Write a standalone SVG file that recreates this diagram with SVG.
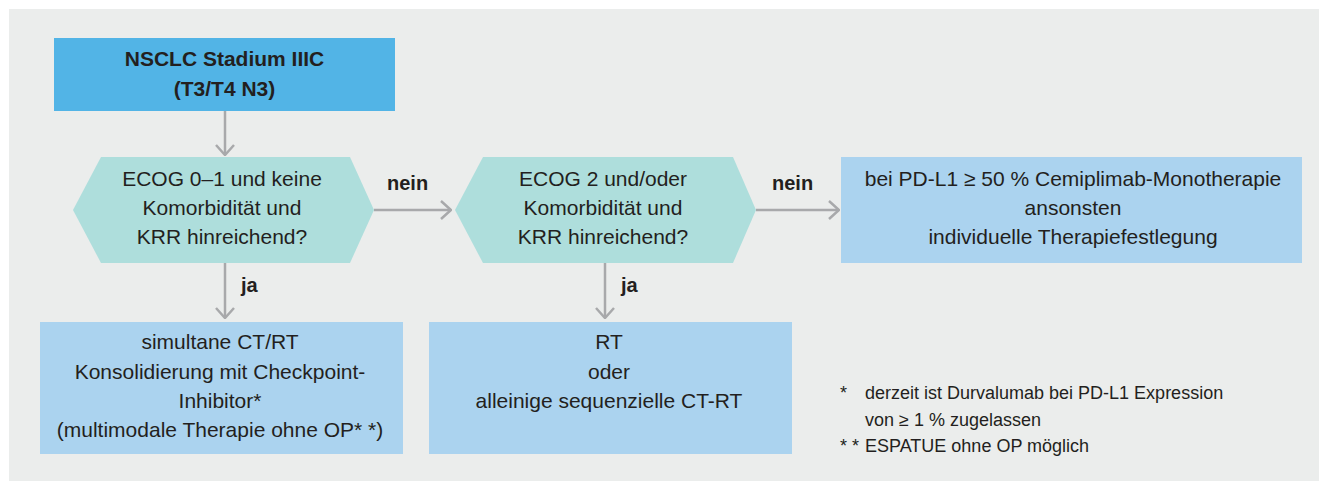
<svg xmlns="http://www.w3.org/2000/svg" width="1319" height="481" viewBox="0 0 1319 481">
  <defs>
    <style>
      .t { font-family: "Liberation Sans", Arial, sans-serif; font-size: 21px; fill: #231F20; text-anchor: middle; }
      .b { font-weight: bold; }
      .lbl { font-family: "Liberation Sans", Arial, sans-serif; font-size: 20px; font-weight: bold; fill: #231F20; }
      .fn { font-family: "Liberation Sans", Arial, sans-serif; font-size: 18px; fill: #231F20; }
      .start { fill: #52B4E6; }
      .dec { fill: #AEDEDC; }
      .res { fill: #ABD3EF; }
      .conn { stroke: #A8A9AB; stroke-width: 2.5; fill: none; marker-end: url(#arr); }
    </style>
    <marker id="arr" viewBox="0 0 12 20" refX="11" refY="10" markerWidth="12" markerHeight="20" markerUnits="userSpaceOnUse" orient="auto">
      <path d="M1,1 L11,10 L1,19" fill="none" stroke="#A8A9AB" stroke-width="2.5"/>
    </marker>
  </defs>

  <rect x="9" y="9" width="1310" height="472" fill="#EBEDEC"/>

  <g id="connectors">
    <line class="conn" x1="225" y1="111" x2="225" y2="155"/>
    <line class="conn" x1="374" y1="210" x2="451" y2="210"/>
    <line class="conn" x1="756" y1="210" x2="839" y2="210"/>
    <line class="conn" x1="225" y1="263" x2="225" y2="318"/>
    <line class="conn" x1="605" y1="263" x2="605" y2="318"/>
    <text class="lbl" x="387" y="190">nein</text>
    <text class="lbl" x="772" y="190">nein</text>
    <text class="lbl" x="241" y="292">ja</text>
    <text class="lbl" x="621" y="292">ja</text>
  </g>

  <g id="start">
    <rect class="start" x="54" y="38" width="341" height="73"/>
    <text class="t b" font-size="20" x="224.5" y="66">NSCLC Stadium IIIC</text>
    <text class="t b" font-size="20" x="224.5" y="96">(T3/T4 N3)</text>
  </g>

  <g id="decision1">
    <polygon class="dec" points="73,210 101,157 350,157 374,210 350,263 101,263"/>
    <text class="t" x="222" y="186">ECOG 0–1 und keine</text>
    <text class="t" x="222" y="215">Komorbidität und</text>
    <text class="t" x="222" y="244">KRR hinreichend?</text>
  </g>

  <g id="decision2">
    <polygon class="dec" points="455,210 483,157 733,157 756,210 733,263 483,263"/>
    <text class="t" x="603" y="186">ECOG 2 und/oder</text>
    <text class="t" x="603" y="215">Komorbidität und</text>
    <text class="t" x="603" y="244">KRR hinreichend?</text>
  </g>

  <g id="result-other">
    <rect class="res" x="841" y="157" width="461" height="106"/>
    <text class="t" x="1073" y="186">bei PD-L1 ≥ 50 % Cemiplimab-Monotherapie</text>
    <text class="t" x="1073" y="215">ansonsten</text>
    <text class="t" x="1073" y="244">individuelle Therapiefestlegung</text>
  </g>

  <g id="result-ctrt">
    <rect class="res" x="40" y="322" width="363" height="132"/>
    <text class="t" x="220" y="349">simultane CT/RT</text>
    <text class="t" x="220" y="379">Konsolidierung mit Checkpoint-</text>
    <text class="t" x="220" y="408">Inhibitor*</text>
    <text class="t" x="220" y="437">(multimodale Therapie ohne OP* *)</text>
  </g>

  <g id="result-rt">
    <rect class="res" x="429" y="322" width="363" height="132"/>
    <text class="t" x="609" y="349">RT</text>
    <text class="t" x="609" y="379">oder</text>
    <text class="t" x="609" y="408">alleinige sequenzielle CT-RT</text>
  </g>

  <g id="footnotes">
    <text class="fn" x="840" y="399">*</text>
    <text class="fn" x="865" y="399">derzeit ist Durvalumab bei PD-L1 Expression</text>
    <text class="fn" x="865" y="426">von ≥ 1 % zugelassen</text>
    <text class="fn" x="840" y="452">* *</text>
    <text class="fn" x="865" y="452">ESPATUE ohne OP möglich</text>
  </g>
</svg>
